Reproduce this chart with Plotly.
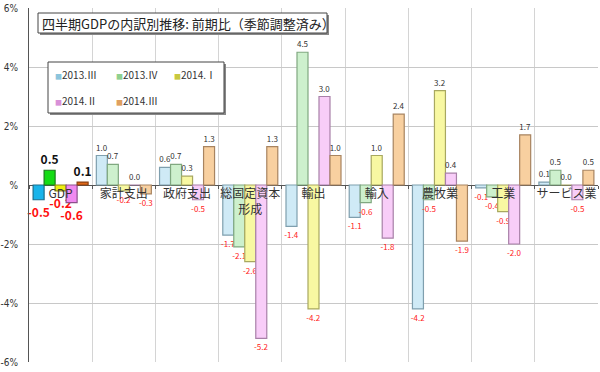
import plotly.graph_objects as go

categories = ["GDP", "家計支出", "政府支出", "総固定資本<br>形成", "輸出", "輸入", "農牧業", "工業", "サービス業"]
series_names = ["2013.Ⅲ", "2013.Ⅳ", "2014.Ⅰ", "2014.Ⅱ", "2014.Ⅲ"]
v_2013_3 = [-0.5, 1.0, 0.6, -1.7, -1.4, -1.1, -4.2, -0.1, 0.1]
v_2013_4 = [0.5, 0.7, 0.7, -2.1, 4.5, -0.6, -0.5, -0.4, 0.5]
v_2014_1 = [-0.2, -0.2, 0.3, -2.6, -4.2, 1.0, 3.2, -0.9, 0.0]
v_2014_2 = [-0.6, 0.0, -0.5, -5.2, 3.0, -1.8, 0.4, -2.0, -0.5]
v_2014_3 = [0.1, -0.3, 1.3, 1.3, 1.0, 2.4, -1.9, 1.7, 0.5]
all_values = [v_2013_3, v_2013_4, v_2014_1, v_2014_2, v_2014_3]
y_ticks = [-6, -4, -2, 0, 2, 4, 6]
y_ticktext = ["-6%", "-4%", "-2%", "%", "2%", "4%", "6%"]
title_text = "四半期GDPの内訳別推移: 前期比（季節調整済み）"

fills = ["#cfeaf6", "#cdf0cd", "#f8f8a2", "#f8cdf8", "#f8d0a0"]
lines = ["#7f9fae", "#80a880", "#a8a860", "#a880a8", "#a88460"]
gdp_fills = ["#18b4ea", "#14dc14", "#eeee10", "#f08af0", "#e06818"]
gdp_lines = ["#1a6e8c", "#1a7a1a", "#8c8c10", "#8c508c", "#8c4010"]
icon_cols = ["#8cc4dc", "#90d090", "#c8c840", "#d890d8", "#e0a060"]

FONT = "Noto Sans CJK JP"
L, R, T, B, W, H = 29, 2, 8, 10, 600, 372
PW, PH = W - L - R, H - T - B

def px(x):
    return (x - L) / PW

def py(y):
    return 1 - (y - T) / PH

fig = go.Figure()
for i, (name, vals) in enumerate(zip(series_names, all_values)):
    main_y = vals[1:]
    fig.add_trace(go.Bar(
        x=categories[1:], y=main_y, name=name, offsetgroup=str(i),
        marker=dict(color=fills[i], line=dict(color=lines[i], width=1.2)),
        texttemplate="%{y:.1f}", textposition="outside", constraintext="none",
        cliponaxis=False,
        textfont=dict(size=8, family=FONT,
                      color=["#ff2020" if v < 0 else "#333333" for v in main_y]),
        showlegend=False, hoverinfo="x+y",
    ))
    g = vals[0]
    fig.add_trace(go.Bar(
        x=categories[:1], y=[g], name=name, offsetgroup=str(i),
        marker=dict(color=gdp_fills[i], line=dict(color=gdp_lines[i], width=1.2)),
        texttemplate="<b>%{y:.1f}</b>", textposition="outside", constraintext="none",
        cliponaxis=False,
        textfont=dict(size=12, family=FONT, color="#ff1010" if g < 0 else "#111111"),
        showlegend=False, hoverinfo="x+y",
    ))

shapes = []
tb = (38, 13, 327, 33)
shapes.append(dict(type="rect", xref="paper", yref="paper", x0=px(tb[0] + 2), x1=px(tb[2] + 2),
                   y0=py(tb[3] + 2), y1=py(tb[1] + 2), fillcolor="#888888", line=dict(width=0), layer="above"))
shapes.append(dict(type="rect", xref="paper", yref="paper", x0=px(tb[0]), x1=px(tb[2]),
                   y0=py(tb[3]), y1=py(tb[1]), fillcolor="white", line=dict(color="#444444", width=1), layer="above"))
lb = (48, 62, 224, 113)
shapes.append(dict(type="rect", xref="paper", yref="paper", x0=px(lb[0] + 2), x1=px(lb[2] + 2),
                   y0=py(lb[3] + 2), y1=py(lb[1] + 2), fillcolor="#888888", line=dict(width=0), layer="above"))
shapes.append(dict(type="rect", xref="paper", yref="paper", x0=px(lb[0]), x1=px(lb[2]),
                   y0=py(lb[3]), y1=py(lb[1]), fillcolor="white", line=dict(color="#444444", width=1), layer="above"))

annotations = [dict(xref="paper", yref="paper", x=px(40), y=py(23), xanchor="left", yanchor="middle",
                    text=title_text, showarrow=False, font=dict(size=13, family=FONT, color="#222222"))]
leg_pos = [(53, 75), (114, 75), (172, 75), (53, 100), (114, 100)]
for i, name in enumerate(series_names):
    lx, ly = leg_pos[i]
    annotations.append(dict(
        xref="paper", yref="paper", x=px(lx), y=py(ly), xanchor="left", yanchor="middle",
        text=f'<span style="font-size:7px;color:{icon_cols[i]}">■</span>{name}',
        showarrow=False, font=dict(size=10, family=FONT, color="#333333")))

fig.update_layout(
    width=W, height=H, margin=dict(l=L, r=R, t=T, b=B, autoexpand=False),
    paper_bgcolor="white", plot_bgcolor="white",
    barmode="group", bargap=0.13, bargroupgap=0.0,
    font=dict(family=FONT, color="#333333"),
    shapes=shapes, annotations=annotations,
    xaxis=dict(type="category", categoryorder="array", categoryarray=categories,
               anchor="free", position=0.5, tickson="boundaries", tickangle=0,
               automargin=False,
               showgrid=True, gridcolor="#d4d4d4", gridwidth=1,
               ticks="outside", ticklen=3, tickcolor="#555555",
               showline=False, zeroline=False,
               tickfont=dict(size=12, family=FONT, color="#333333")),
    yaxis=dict(range=[-6, 6], tickvals=y_ticks, ticktext=y_ticktext, automargin=False,
               showgrid=True, gridcolor="#c8c8c8", gridwidth=1,
               zeroline=True, zerolinecolor="#555555", zerolinewidth=1,
               showline=True, linecolor="#555555", linewidth=1,
               ticks="", ticklabelstandoff=8,
               tickfont=dict(size=10, family="Liberation Sans Narrow, DejaVu Sans Condensed", color="#333333")),
)

fig.write_html("out.html", config={"displayModeBar": False},
               post_script="document.body.style.margin='0';document.body.style.overflow='hidden';")
